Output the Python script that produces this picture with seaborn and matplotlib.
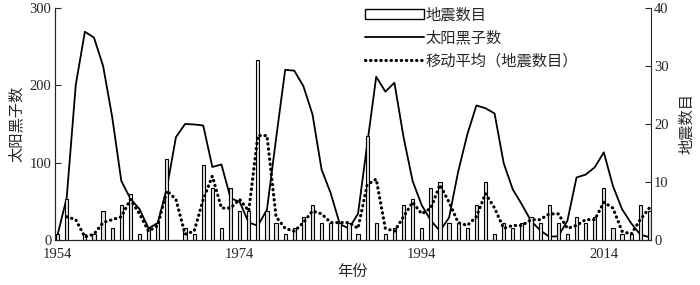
import matplotlib
matplotlib.use("Agg")
import matplotlib.pyplot as plt
from matplotlib.lines import Line2D
from matplotlib.patches import Patch
import seaborn as sns

# data, 1954-2019
years = list(range(1954, 2020))
sunspots = [6.6, 54.2, 200.7, 269.3, 261.7, 225.1, 159.0, 76.4, 53.4, 39.9,
            15.0, 22.0, 66.8, 132.9, 150.0, 149.4, 148.0, 94.4, 97.6, 54.1,
            49.2, 22.5, 18.4, 39.3, 131.0, 220.1, 218.9, 198.9, 162.4, 91.0,
            60.5, 20.6, 14.8, 33.9, 123.0, 211.1, 191.8, 203.3, 133.0, 76.1,
            44.9, 25.1, 11.6, 28.9, 88.3, 136.3, 173.9, 170.4, 163.6, 99.3,
            65.3, 45.8, 24.7, 12.6, 4.2, 4.8, 24.9, 80.8, 84.5, 94.0,
            113.3, 69.8, 39.8, 21.7, 7.0, 3.6]
quakes = [1, 7, 0, 1, 1, 5, 2, 6, 8, 1,
          2, 3, 14, 0, 2, 1, 13, 9, 2, 9,
          5, 5, 31, 5, 3, 1, 2, 4, 6, 3,
          3, 3, 3, 1, 18, 3, 1, 2, 6, 7,
          2, 9, 10, 3, 3, 2, 6, 10, 1, 3,
          2, 3, 4, 3, 6, 3, 1, 4, 3, 4,
          9, 2, 1, 1, 6, 5]
# moving average (period 2) as drawn, starts 1955
ma_years = list(range(1955, 2020))
ma_quakes = [4, 3.5, 0.5, 1, 3, 3.5, 4, 7, 4.5,
             1.5, 2.5, 8.5, 7, 1, 1.5, 7, 11, 5.5, 5.5,
             7, 5, 18, 18, 4, 2, 1.5, 3, 5, 4.5,
             3, 3, 3, 2, 9.5, 10.5, 2, 1.5, 4, 6.5,
             4.5, 5.5, 9.5, 6.5, 3, 2.5, 4, 8, 5.5, 2,
             2.5, 2.5, 3.5, 3.5, 4.5, 4.5, 2, 2.5, 3.5, 3.5,
             6.5, 5.5, 1.5, 1, 3.5, 5.5]

xticks = [1954, 1974, 1994, 2014]

sns.set_style("ticks")
plt.rcParams["font.family"] = ["Liberation Serif", "Noto Sans CJK SC"]
plt.rcParams["font.size"] = 10


def style_axis(ax):
    ax.spines["top"].set_visible(False)
    ax.tick_params(direction="in", length=4, width=0.8, labelsize=10.5)
    ax.tick_params(axis="y", pad=2.5)
    ax.tick_params(axis="x", pad=6)


def main():
    fig = plt.figure(figsize=(7, 2.85), dpi=100)
    ax1 = fig.add_axes([0.0786, 0.158, 0.851, 0.814])
    ax2 = ax1.twinx()

    sns.lineplot(x=years, y=sunspots, ax=ax1, color="black", linewidth=1.3)
    sns.barplot(x=years, y=quakes, ax=ax2, native_scale=True, width=0.35,
                color="#e4e4e4", edgecolor="black", linewidth=0.8,
                saturation=1)
    sns.lineplot(x=ma_years, y=ma_quakes, ax=ax2, color="black",
                 linewidth=2.3, linestyle=(0, (0.1, 1.5)),
                 dash_capstyle="round")

    ax1.set_xlim(1953.72, 2019.15)
    ax1.set_ylim(0, 300)
    ax2.set_ylim(0, 40)
    ax1.set_xticks(xticks)
    ax1.set_xticklabels([str(y) for y in xticks])
    ax1.set_yticks([0, 100, 200, 300])
    ax2.set_yticks([0, 10, 20, 30, 40])
    for ax in (ax1, ax2):
        style_axis(ax)
    ax1.spines["right"].set_visible(False)

    ax1.set_xlabel("年份", fontsize=11, labelpad=3)
    ax1.set_ylabel("太阳黑子数", fontsize=11, labelpad=4)
    ax2.set_ylabel("地震数目", fontsize=11, labelpad=8)

    handles = [
        Patch(facecolor="white", edgecolor="black", linewidth=1.0),
        Line2D([], [], color="black", linewidth=1.3),
        Line2D([], [], color="black", linewidth=2.3,
               linestyle=(0, (0.1, 1.5)), dash_capstyle="round"),
    ]
    labels = ["地震数目", "太阳黑子数", "移动平均（地震数目）"]
    ax2.legend(handles, labels, loc="upper left",
               bbox_to_anchor=(0.52, 1.0), frameon=False, fontsize=11,
               handlelength=3.9, handletextpad=0.1, labelspacing=0.55,
               borderpad=0, borderaxespad=0)

    fig.savefig("out.png", dpi=100)


if __name__ == "__main__":
    main()
